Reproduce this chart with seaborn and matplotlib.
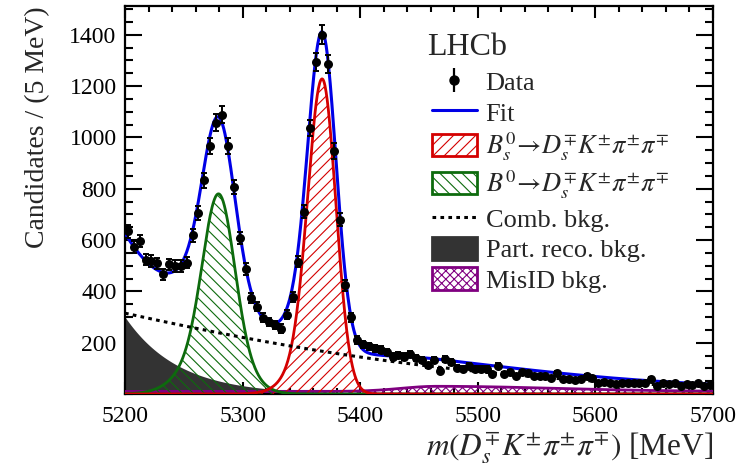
import numpy as np
import pandas as pd
import matplotlib
matplotlib.use("Agg")
import matplotlib.pyplot as plt
import seaborn as sns
from matplotlib.lines import Line2D
from matplotlib.patches import Patch
from matplotlib.legend_handler import HandlerTuple
from matplotlib.ticker import MultipleLocator

# ---- binned candidates, 5 MeV bins from 5200 to 5700 MeV ----
bin_low = 5200.0
bin_width = 5.0
counts = [
    634, 574, 596, 524, 518, 509, 466, 505, 498, 498,
    512, 619, 706, 833, 966, 1057, 1089, 968, 807, 608,
    487, 373, 340, 297, 280, 268, 255, 308, 377, 516,
    711, 1037, 1294, 1400, 1287, 948, 679, 423, 299, 211,
    193, 187, 178, 172, 163, 146, 152, 146, 156, 142,
    132, 112, 132, 90, 138, 125, 103, 99, 109, 99,
    99, 99, 77, 110, 78, 86, 70, 86, 80, 70,
    70, 70, 64, 81, 57, 57, 55, 57, 70, 64,
    44, 47, 44, 39, 44, 44, 44, 42, 42, 57,
    31, 44, 38, 42, 31, 38, 35, 42, 31, 35,
]

# ---- fit model parameters ----
bs_mean, bs_peak, bs_sigma, bs_tail_sigma, bs_tail_frac = 5367.6, 1228.0, 11.7, 20.0, 0.2
b0_mean, b0_peak, b0_sigma, b0_wide_frac = 5279.5, 780.0, 13.0, 0.3
b0_wide_left, b0_wide_right = 24.0, 20.0
comb_norm, comb_lin, comb_quad = 315.0, 3.22e-3, 3.46e-6
partreco_norm, partreco_decay = 300.0, 45.0
misid_base, misid_bump, misid_mean, misid_left, misid_right = 10.0, 20.0, 5465.0, 30.0, 100.0

legend_labels = [
    "Data",
    "Fit",
    r"$B_s^0\!\rightarrow\! D_s^{\mp}K^{\pm}\pi^{\pm}\pi^{\mp}$",
    r"$B^0\!\rightarrow\! D_s^{\mp}K^{\pm}\pi^{\pm}\pi^{\mp}$",
    "Comb. bkg.",
    "Part. reco. bkg.",
    "MisID bkg.",
]

RED = "#d40000"
GREEN = "#0d6b0d"
BLUE = "#0000e6"
PURPLE = "#800080"
GREY = "#333333"


def gauss(x, mu, s):
    return np.exp(-0.5 * ((x - mu) / s) ** 2)


def bs_shape(x):
    core = gauss(x, bs_mean, bs_sigma)
    left = (1 - bs_tail_frac) * core + bs_tail_frac * gauss(x, bs_mean, bs_tail_sigma)
    return bs_peak * np.where(x < bs_mean, left, core)


def b0_shape(x):
    wide = np.where(x < b0_mean, b0_wide_left, b0_wide_right)
    return b0_peak * ((1 - b0_wide_frac) * gauss(x, b0_mean, b0_sigma)
                      + b0_wide_frac * gauss(x, b0_mean, wide))


def comb_shape(x):
    d = x - 5200.0
    return comb_norm * np.exp(-comb_lin * d - comb_quad * d ** 2)


def partreco_shape(x):
    return partreco_norm * np.exp(-(x - 5200.0) / partreco_decay)


def misid_shape(x):
    w = np.where(x < misid_mean, misid_left, misid_right)
    return misid_base + misid_bump * np.exp(-0.5 * ((x - misid_mean) / w) ** 2)


counts = np.asarray(counts, dtype=float)
centers = bin_low + bin_width * (np.arange(len(counts)) + 0.5)
data = pd.DataFrame({"mass": centers, "count": counts, "err": np.sqrt(counts)})

m = np.linspace(5200.0, 5700.0, 1001)
curves = pd.DataFrame({
    "mass": m,
    "bs": bs_shape(m),
    "b0": b0_shape(m),
    "comb": comb_shape(m),
    "partreco": partreco_shape(m),
    "misid": misid_shape(m),
})
curves["total"] = curves[["bs", "b0", "comb", "partreco", "misid"]].sum(axis=1)

# ---- style ----
sns.set_theme(style="ticks")
plt.rcParams["font.family"] = ["Liberation Serif", "DejaVu Serif"]
plt.rcParams["mathtext.fontset"] = "stix"
plt.rcParams["hatch.linewidth"] = 0.8

fig = plt.figure(figsize=(7.41, 4.69), dpi=100)
ax = fig.add_axes([125 / 741, 1 - 394 / 469, (713 - 125) / 741, (394 - 6) / 469])

# part. reco. background (solid)
ax.fill_between(curves["mass"], 0, curves["partreco"], facecolor=GREY, edgecolor=GREY,
                linewidth=0, zorder=2)
# MisID (cross hatched)
ax.fill_between(curves["mass"], 0, curves["misid"], facecolor="none", edgecolor=PURPLE,
                hatch="xxxx", linewidth=0, zorder=2)
sns.lineplot(data=curves, x="mass", y="misid", color=PURPLE, linewidth=2.0, ax=ax, zorder=3)
# signal peaks (hatched)
ax.fill_between(curves["mass"], 0, curves["b0"], facecolor="none", edgecolor=GREEN,
                hatch="\\\\\\", linewidth=0, zorder=3)
sns.lineplot(data=curves, x="mass", y="b0", color=GREEN, linewidth=2.0, ax=ax, zorder=4)
ax.fill_between(curves["mass"], 0, curves["bs"], facecolor="none", edgecolor=RED,
                hatch="///", linewidth=0, zorder=3)
sns.lineplot(data=curves, x="mass", y="bs", color=RED, linewidth=2.0, ax=ax, zorder=4)
# combinatorial
sns.lineplot(data=curves, x="mass", y="comb", color="black", linewidth=2.2, ax=ax, zorder=4)
ax.lines[-1].set_linestyle((0, (1.2, 1.4)))
# total fit
sns.lineplot(data=curves, x="mass", y="total", color=BLUE, linewidth=2.2, ax=ax, zorder=5)

# data with Poisson errors
ax.errorbar(data["mass"], data["count"], yerr=data["err"], fmt="none",
            ecolor="black", elinewidth=1.4, capsize=2.2, capthick=1.4, zorder=6)
sns.scatterplot(data=data, x="mass", y="count", color="black", s=42, edgecolor="black",
                linewidth=0, ax=ax, zorder=7)

ax.set_xlim(5200, 5700)
ax.set_ylim(0, 1512)
ax.xaxis.set_major_locator(MultipleLocator(100))
ax.xaxis.set_minor_locator(MultipleLocator(20))
ax.yaxis.set_major_locator(MultipleLocator(200))
ax.yaxis.set_minor_locator(MultipleLocator(50))
ax.set_yticks([200, 400, 600, 800, 1000, 1200, 1400])
ax.tick_params(axis="both", which="both", direction="in", top=True, right=True,
               labelsize=17, width=1.5, colors="black")
ax.tick_params(axis="x", which="major", length=8.5, pad=9)
ax.tick_params(axis="x", which="minor", length=4.3)
ax.tick_params(axis="y", which="major", length=12, pad=6)
ax.tick_params(axis="y", which="minor", length=6)
for sp in ax.spines.values():
    sp.set_linewidth(1.6)
    sp.set_color("black")

ax.set_xlabel(r"$m(D_s^{\mp}K^{\pm}\pi^{\pm}\pi^{\mp})$ [MeV]", fontsize=22.5, loc="right",
              labelpad=2)
ax.set_ylabel("Candidates / (5 MeV)", fontsize=20, loc="top", labelpad=14)

# legend
data_handle = (Line2D([], [], color="black", marker="|", markersize=17, markeredgewidth=1.6,
                      linestyle="none"),
               Line2D([], [], color="black", marker="o", markersize=6.5, linestyle="none"))
handles = [
    data_handle,
    Line2D([], [], color=BLUE, linewidth=2.2),
    Patch(facecolor="white", edgecolor=RED, hatch="///", linewidth=2),
    Patch(facecolor="white", edgecolor=GREEN, hatch="\\\\\\", linewidth=2),
    Line2D([], [], color="black", linewidth=2.2, linestyle=(0, (1.2, 1.4))),
    Patch(facecolor=GREY, edgecolor=GREY, linewidth=2),
    Patch(facecolor="white", edgecolor=PURPLE, hatch="xxxx", linewidth=2),
]
leg = ax.legend(handles, legend_labels, loc="upper left", bbox_to_anchor=(0.5216, 0.836),
                frameon=False, fontsize=19, handlelength=1.7, handleheight=0.95,
                handletextpad=0.34, labelspacing=0.19, borderaxespad=0, borderpad=0,
                handler_map={tuple: HandlerTuple(ndivide=1)})
ax.text(0.514, 0.874, "LHCb", transform=ax.transAxes, fontsize=23, ha="left",
        va="baseline")

fig.savefig("out.png", dpi=100)
